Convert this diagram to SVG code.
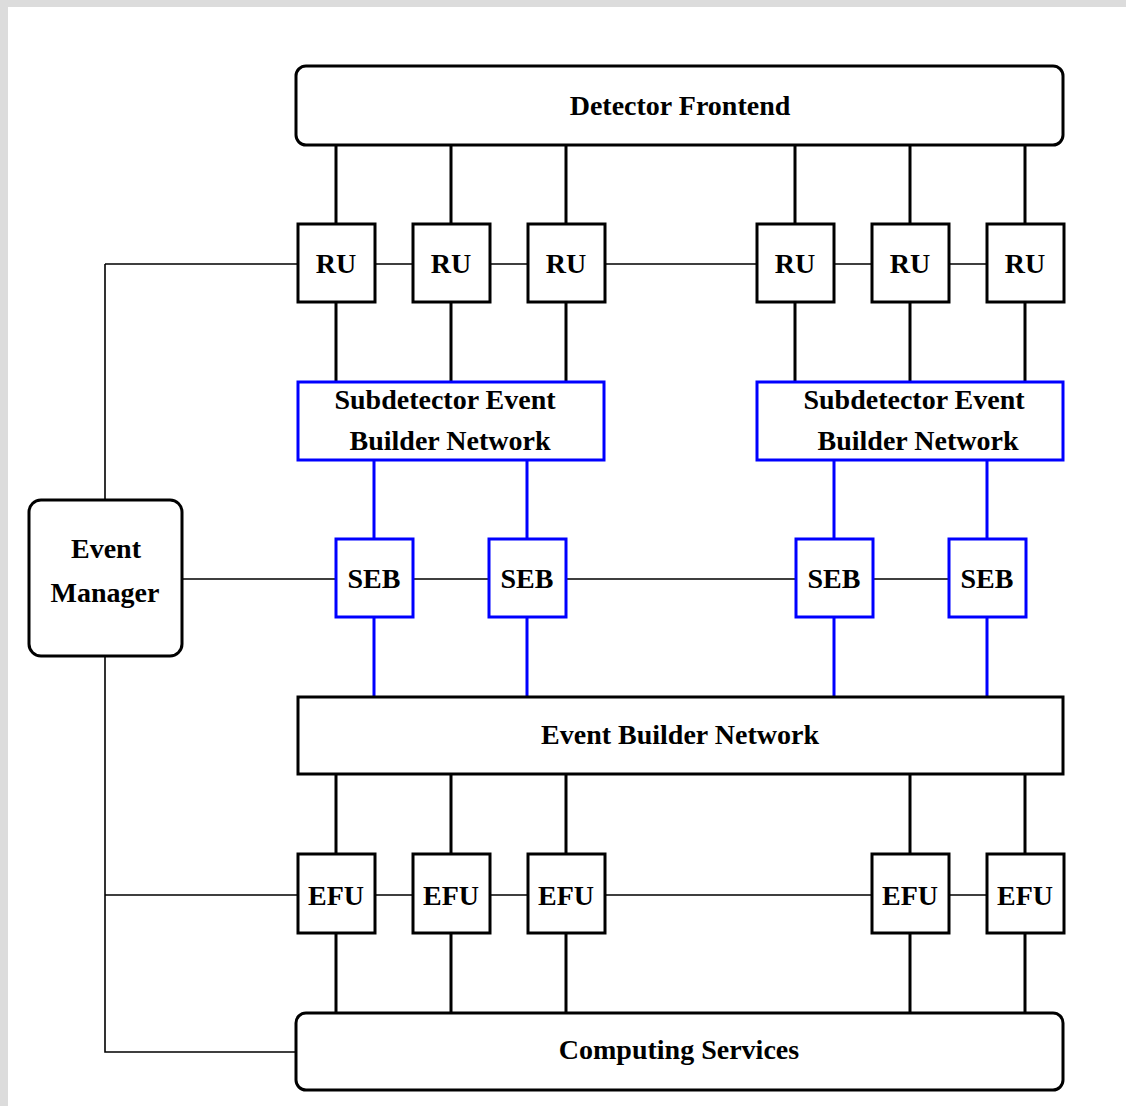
<svg xmlns="http://www.w3.org/2000/svg" width="1126" height="1106" viewBox="0 0 1126 1106">
<style>
.box{fill:#fff;stroke:#000;stroke-width:3}
.blue{fill:#fff;stroke:#0000ff;stroke-width:3}
.thin{stroke:#000;stroke-width:1.6;fill:none}
.thick{stroke:#000;stroke-width:3;fill:none}
.bl{stroke:#0000ff;stroke-width:3;fill:none}
text{font-family:"Liberation Serif","Times New Roman",serif;font-weight:bold;font-size:28px;fill:#000;text-anchor:middle}
</style>
<rect x="0" y="0" width="1126" height="1106" fill="#dcdcdc"/>
<rect x="8" y="7" width="1118" height="1099" fill="#fff"/>
<g id="connectors">
<path class="thin" d="M105 264H297M375 264H412M490 264H527M605 264H756M834 264H871M949 264H986"/>
<path class="thin" d="M105 264V499M105 657V1052H295"/>
<path class="thin" d="M183 579H335M413 579H489M567 579H795M873 579H948"/>
<path class="thin" d="M105 895H297M375 895H412M490 895H527M605 895H871M949 895H986"/>
<path class="thick" d="M336 146V223M451 146V223M566 146V223M795 146V223M910 146V223M1025 146V223"/>
<path class="thick" d="M336 303V381M451 303V381M566 303V381M795 303V381M910 303V381M1025 303V381"/>
<path class="bl" d="M374 460V538M527 460V538M834 460V538M987 460V538"/>
<path class="bl" d="M374 617V696M527 617V696M834 617V696M987 617V696"/>
<path class="thick" d="M336 775V853M451 775V853M566 775V853M910 775V853M1025 775V853"/>
<path class="thick" d="M336 934V1012M451 934V1012M566 934V1012M910 934V1012M1025 934V1012"/>
</g>
<g id="detector-frontend"><rect class="box" x="296" y="66" width="767" height="79" rx="10"/><text x="680" y="115">Detector Frontend</text></g>
<g id="ru1"><rect class="box" x="298" y="224" width="77" height="78"/><text x="336" y="273">RU</text></g>
<g id="ru2"><rect class="box" x="413" y="224" width="77" height="78"/><text x="451" y="273">RU</text></g>
<g id="ru3"><rect class="box" x="528" y="224" width="77" height="78"/><text x="566" y="273">RU</text></g>
<g id="ru4"><rect class="box" x="757" y="224" width="77" height="78"/><text x="795" y="273">RU</text></g>
<g id="ru5"><rect class="box" x="872" y="224" width="77" height="78"/><text x="910" y="273">RU</text></g>
<g id="ru6"><rect class="box" x="987" y="224" width="77" height="78"/><text x="1025" y="273">RU</text></g>
<g id="sebn1"><rect class="blue" x="298" y="382" width="306" height="78"/><text x="445" y="409">Subdetector Event</text><text x="450" y="450">Builder Network</text></g>
<g id="sebn2"><rect class="blue" x="757" y="382" width="306" height="78"/><text x="914" y="409">Subdetector Event</text><text x="918" y="450">Builder Network</text></g>
<g id="event-manager"><rect class="box" x="29" y="500" width="153" height="156" rx="12"/><text x="106" y="558">Event</text><text x="105" y="602">Manager</text></g>
<g id="seb1"><rect class="blue" x="336" y="539" width="77" height="78"/><text x="374" y="588">SEB</text></g>
<g id="seb2"><rect class="blue" x="489" y="539" width="77" height="78"/><text x="527" y="588">SEB</text></g>
<g id="seb3"><rect class="blue" x="796" y="539" width="77" height="78"/><text x="834" y="588">SEB</text></g>
<g id="seb4"><rect class="blue" x="949" y="539" width="77" height="78"/><text x="987" y="588">SEB</text></g>
<g id="event-builder-network"><rect class="box" x="298" y="697" width="765" height="77"/><text x="680" y="744">Event Builder Network</text></g>
<g id="efu1"><rect class="box" x="298" y="854" width="77" height="79"/><text x="336" y="905">EFU</text></g>
<g id="efu2"><rect class="box" x="413" y="854" width="77" height="79"/><text x="451" y="905">EFU</text></g>
<g id="efu3"><rect class="box" x="528" y="854" width="77" height="79"/><text x="566" y="905">EFU</text></g>
<g id="efu4"><rect class="box" x="872" y="854" width="77" height="79"/><text x="910" y="905">EFU</text></g>
<g id="efu5"><rect class="box" x="987" y="854" width="77" height="79"/><text x="1025" y="905">EFU</text></g>
<g id="computing-services"><rect class="box" x="296" y="1013" width="767" height="77" rx="10"/><text x="679" y="1059">Computing Services</text></g>
</svg>
